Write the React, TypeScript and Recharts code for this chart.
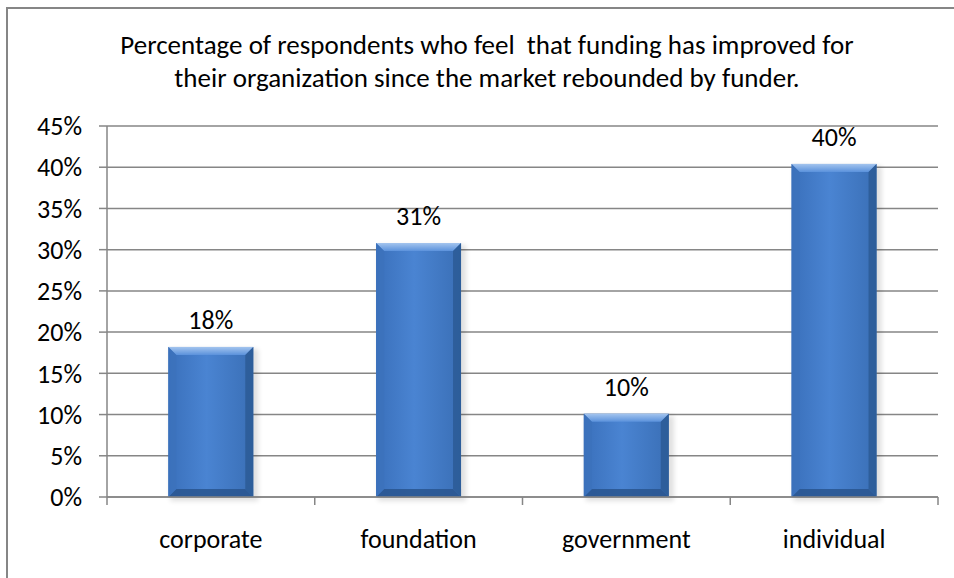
import { BarChart, Bar, XAxis, YAxis, CartesianGrid, LabelList } from 'recharts'

const funders = ['corporate', 'foundation', 'government', 'individual']
const improvedPct = [18.2, 30.8, 10.1, 40.4]
const yTicks = [0, 5, 10, 15, 20, 25, 30, 35, 40, 45]
const titleLines = [
  'Percentage of respondents who feel  that funding has improved for',
  'their organization since the market rebounded by funder.',
]

const data = funders.map((name, i) => ({ name, value: improvedPct[i] }))

const FONT = 'Carlito, Lato, "Open Sans", sans-serif'
const AXIS = '#868686'
const TXT = 26

function BevelBar(props: any) {
  const { x, y, width, height } = props
  if (!height || height <= 0) return null
  const b = Math.min(8, width / 6)
  return (
    <g>
      <rect x={x + 2} y={y + 2} width={width + 3} height={height + 2} fill="#000" opacity={0.12} filter="url(#barShadow)" />
      <rect x={x} y={y} width={width} height={height} fill="url(#barBody)" />
      <polygon points={`${x},${y} ${x + width},${y} ${x + width - b},${y + b} ${x + b},${y + b}`} fill="url(#barTop)" />
      <polygon points={`${x + width},${y} ${x + width},${y + height} ${x + width - b},${y + height - b} ${x + width - b},${y + b}`} fill="#2c5a95" opacity={0.85} />
      <polygon points={`${x},${y + height} ${x + width},${y + height} ${x + width - b},${y + height - b} ${x + b},${y + height - b}`} fill="#2a5791" opacity={0.9} />
      <polygon points={`${x},${y} ${x + b},${y + b} ${x + b},${y + height - b} ${x},${y + height}`} fill="#3c72bc" opacity={0.8} />
    </g>
  )
}

function CategoryTick(props: any) {
  const { x, y, payload, index } = props
  const half = payload?.offset ?? 104
  return (
    <g>
      <line x1={x - half} y1={y - 8} x2={x - half} y2={y} stroke={AXIS} strokeWidth={1.5} />
      {index === funders.length - 1 && (
        <line x1={x + half} y1={y - 8} x2={x + half} y2={y} stroke={AXIS} strokeWidth={1.5} />
      )}
      <text x={x} y={y + 43} textAnchor="middle" fontSize={TXT} fill="#000" fontFamily={FONT}>
        {payload.value}
      </text>
    </g>
  )
}

export default function App() {
  return (
    <div style={{ position: 'absolute', left: 0, top: 0, width: 954, height: 578, background: '#fff', overflow: 'hidden' }}>
      <div
        style={{
          position: 'absolute',
          left: 6,
          top: 7,
          width: 1000,
          height: 600,
          borderLeft: `2px solid ${AXIS}`,
          borderTop: `2px solid ${AXIS}`,
        }}
      />
      <div
        style={{
          position: 'absolute',
          left: 0,
          top: 28,
          width: 974,
          textAlign: 'center',
          fontFamily: FONT,
          fontSize: 27,
          lineHeight: '33px',
          color: '#000',
          whiteSpace: 'pre',
        }}
      >
        {titleLines.map((t) => (
          <div key={t}>{t}</div>
        ))}
      </div>
      <div style={{ position: 'absolute', left: 0, top: 0 }}>
        <BarChart
          width={954}
          height={578}
          data={data}
          margin={{ top: 126, right: 16, bottom: 41, left: 47 }}
          barCategoryGap="29.5%"
        >
          <defs>
            <linearGradient id="barBody" x1="0" y1="0" x2="1" y2="0">
              <stop offset="0%" stopColor="#3a70bb" />
              <stop offset="45%" stopColor="#4a84d2" />
              <stop offset="100%" stopColor="#3a6fb6" />
            </linearGradient>
            <linearGradient id="barTop" x1="0" y1="0" x2="0" y2="1">
              <stop offset="0%" stopColor="#a3c4ee" />
              <stop offset="100%" stopColor="#5b92dc" />
            </linearGradient>
            <filter id="barShadow" x="-20%" y="-5%" width="140%" height="110%">
              <feGaussianBlur stdDeviation="2.5" />
            </filter>
          </defs>
          <CartesianGrid vertical={false} stroke={AXIS} strokeWidth={1.5} />
          <XAxis
            dataKey="name"
            axisLine={{ stroke: AXIS, strokeWidth: 1.5 }}
            tickLine={false}
            tick={<CategoryTick />}
            height={40}
            interval={0}
          />
          <YAxis
            domain={[0, 45]}
            ticks={yTicks}
            interval={0}
            width={60}
            tickFormatter={(v) => `${v}%`}
            axisLine={{ stroke: AXIS, strokeWidth: 1.5 }}
            tickLine={{ stroke: AXIS, strokeWidth: 1.5 }}
            tickSize={8}
            tickMargin={17}
            tick={{ fontSize: TXT, fill: '#000', fontFamily: FONT }}
          />
          <Bar dataKey="value" shape={<BevelBar />} isAnimationActive={false}>
            <LabelList
              dataKey="value"
              position="top"
              offset={18}
              formatter={(v: any) => `${Math.round(v)}%`}
              style={{ fontSize: TXT, fill: '#000', fontFamily: FONT }}
            />
          </Bar>
        </BarChart>
      </div>
    </div>
  )
}
